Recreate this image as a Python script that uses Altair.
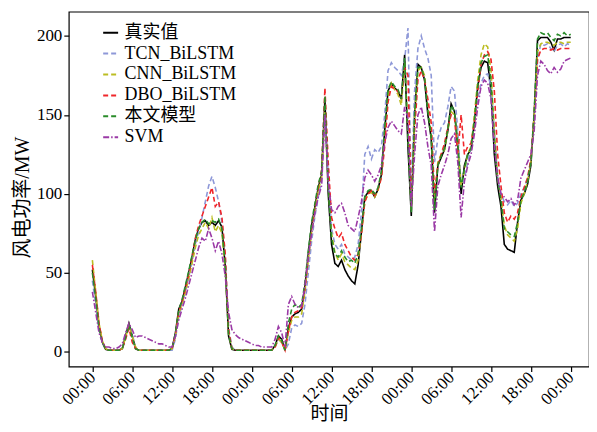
import altair as alt
import pandas as pd

# time in hours, 30-minute steps over three days (00:00 .. 00:00)
hours = [i * 0.5 for i in range(145)]
tick_hours = [0, 6, 12, 18, 24, 30, 36, 42, 48, 54, 60, 66, 72]

series_names = ["真实值", "TCN_BiLSTM", "CNN_BiLSTM", "DBO_BiLSTM", "本文模型", "SVM"]
series_colors = ["#000000", "#8e98d8", "#bcbd22", "#f0262a", "#2a8c2a", "#9b3aa6"]

actual = [52, 35, 16, 6, 1.5, 1, 1, 1, 1, 2, 10, 18, 10, 2, 1,
          1, 1, 1, 1, 1, 1, 1, 1, 1,
          2, 12, 27, 32, 41, 50, 60, 71, 78, 82, 83, 80, 82, 80, 83, 79, 54, 10, 1.5,
          1, 1, 1, 1, 1, 1, 1, 1, 1, 1, 1, 1,
          4, 10, 8, 1, 15, 22, 24, 25, 27, 42, 62, 80, 92, 104, 112, 160, 100, 68, 56,
          54, 58, 52, 48, 45, 43, 55, 76, 98, 101, 102, 98, 103, 112, 140, 165, 170, 167,
          165, 160, 188, 130, 86, 150, 182, 180, 172, 150, 135, 88, 118, 123, 128, 140,
          157, 152, 130, 100, 118, 125, 128, 145, 168, 180, 184, 183, 165, 125, 105, 92,
          68, 65, 64, 63, 82, 96, 100, 106, 118, 150, 197, 199, 199, 199, 196, 191, 198,
          198, 199, 199, 199]

tcn = [45, 30, 14, 6, 2, 1, 1, 1, 1, 2, 9, 16, 11, 3, 1,
       1, 1, 1, 1, 1, 1, 1, 1, 1,
       1, 8, 22, 30, 38, 47, 57, 68, 76, 85, 95, 105, 111, 104, 95, 82, 60, 15, 3,
       1, 1, 1, 1, 1, 1, 1, 1, 1, 1, 1, 1,
       3, 8, 6, 1, 5, 15, 17, 16, 18, 30, 50, 70, 86, 98, 108, 150, 110, 78, 68,
       65, 68, 62, 60, 58, 60, 68, 88, 125, 130, 122, 128, 126, 130, 150, 178, 183, 180,
       178, 175, 185, 205, 100, 165, 192, 200, 192, 186, 175, 120, 135, 142, 145, 155,
       168, 165, 140, 105, 110, 120, 130, 145, 160, 170, 175, 176, 168, 140, 110, 100,
       95, 93, 96, 92, 94, 100, 104, 110, 120, 145, 185, 195, 194, 195, 192, 190, 194,
       195, 193, 195, 194]

cnn = [58, 38, 18, 7, 2, 1, 1, 1, 1, 2, 9, 17, 10, 3, 1,
       1, 1, 1, 1, 1, 1, 1, 1, 1,
       2, 10, 24, 30, 38, 46, 56, 66, 74, 78, 82, 78, 85, 76, 80, 75, 52, 12, 2,
       1, 1, 1, 1, 1, 1, 1, 1, 1, 1, 1, 1,
       3, 8, 6, 1, 12, 20, 22, 22, 24, 38, 58, 76, 90, 102, 110, 155, 105, 75, 63,
       58, 62, 57, 55, 53, 52, 58, 75, 95, 100, 101, 98, 102, 112, 138, 162, 170, 166,
       163, 156, 183, 140, 90, 148, 178, 180, 175, 155, 138, 95, 120, 125, 128, 140,
       152, 150, 130, 105, 115, 125, 130, 150, 172, 188, 195, 193, 178, 140, 110, 98,
       80, 74, 72, 70, 78, 94, 100, 108, 120, 150, 190, 195, 196, 196, 195, 194, 196,
       196, 195, 196, 196]

dbo = [55, 38, 18, 7, 2, 1, 1, 1, 1, 2, 8, 15, 6, 2, 1,
       1, 1, 1, 1, 1, 1, 1, 1, 1,
       2, 11, 25, 32, 40, 49, 60, 72, 80, 86, 92, 98, 104, 92, 95, 85, 62, 14, 2,
       1, 1, 1, 1, 1, 1, 1, 1, 1, 1, 1, 1,
       3, 9, 6, 1, 13, 22, 25, 26, 28, 40, 60, 78, 92, 104, 115, 167, 120, 85, 78,
       72, 75, 68, 64, 60, 58, 62, 75, 95, 100, 102, 99, 103, 110, 130, 158, 168, 166,
       165, 160, 180, 175, 95, 140, 172, 178, 172, 160, 145, 100, 118, 125, 132, 142,
       150, 148, 125, 150, 125, 130, 132, 145, 165, 182, 188, 190, 185, 165, 125, 105,
       88, 82, 86, 84, 88, 98, 104, 110, 122, 150, 185, 191, 192, 192, 191, 192, 191,
       192, 192, 192, 192]

ours = [50, 34, 15, 6, 1.5, 1, 1, 1, 1, 2, 9, 17, 9, 2, 1,
        1, 1, 1, 1, 1, 1, 1, 1, 1,
        2, 12, 26, 33, 42, 51, 61, 71, 78, 82, 84, 81, 83, 82, 84, 78, 55, 11, 2,
        1, 1, 1, 1, 1, 1, 1, 1, 1, 1, 1, 1,
        4, 10, 7, 1, 18, 27, 30, 28, 30, 44, 64, 82, 94, 106, 114, 162, 105, 72, 62,
        60, 64, 60, 57, 58, 56, 62, 78, 98, 102, 103, 100, 104, 114, 142, 166, 171, 168,
        166, 160, 186, 135, 88, 150, 180, 180, 173, 152, 137, 90, 118, 124, 129, 141,
        156, 152, 132, 104, 116, 125, 129, 147, 168, 183, 187, 188, 172, 135, 108, 96,
        78, 76, 74, 73, 82, 96, 101, 108, 120, 152, 198, 202, 201, 202, 199, 197, 201,
        200, 202, 200, 201]

svm = [38, 25, 12, 6, 3, 3, 2, 2, 3, 5, 12, 18, 14, 9, 10,
       10, 9, 8, 7, 6, 5, 5, 4, 3,
       3, 10, 20, 27, 34, 42, 50, 58, 66, 72, 70, 78, 72, 64, 70, 62, 48, 25, 14,
       11, 9, 8, 7, 6, 5, 4, 4, 3, 3, 3, 3,
       8, 16, 12, 3, 30, 35, 30, 28, 29, 42, 60, 75, 88, 98, 105, 150, 108, 90, 88,
       92, 94, 88, 80, 78, 76, 85, 95, 110, 115, 112, 108, 112, 118, 132, 142, 146, 143,
       140, 138, 155, 148, 92, 125, 150, 155, 145, 130, 118, 76, 105, 112, 118, 125,
       135, 138, 120, 85, 108, 118, 125, 138, 155, 168, 172, 170, 160, 130, 110, 100,
       98, 95, 97, 93, 96, 110, 115, 120, 125, 140, 175, 184, 182, 178, 176, 180, 177,
       179, 184, 185, 186]

all_values = [actual, tcn, cnn, dbo, ours, svm]
rows = []
for name, vals in zip(series_names, all_values):
    for h, v in zip(hours, vals):
        rows.append({"t": h, "v": v, "s": name})
df = pd.DataFrame(rows)

serif = "Liberation Serif, Noto Sans CJK SC"

label_expr = "(datum.value % 24 < 10 ? '0' : '') + (datum.value % 24) + ':00'"

legend_cfg = dict(title=None, orient="none", legendX=33, legendY=12,
                  symbolType="stroke", symbolSize=225, symbolStrokeWidth=2,
                  labelFontSize=18, labelFont=serif, labelColor="black",
                  labelOffset=5, rowPadding=3, padding=0)

chart = alt.Chart(df).mark_line(clip=True, strokeWidth=1.6).encode(
    x=alt.X("t:Q",
            scale=alt.Scale(domain=[-3.55, 74.75], nice=False, zero=False),
            axis=alt.Axis(values=tick_hours, labelExpr=label_expr, labelAngle=-45,
                          labelAlign="right", labelBaseline="middle", labelPadding=3,
                          title="时间", titleY=38, titleBaseline="top", grid=False)),
    y=alt.Y("v:Q",
            scale=alt.Scale(domain=[-9.3, 215.3], nice=False, zero=False),
            axis=alt.Axis(values=[0, 50, 100, 150, 200], title="风电功率/MW",
                          titleX=-36, titleY=186, titleAlign="center", titleBaseline="bottom",
                          titleFontSize=20, labelPadding=2, grid=False)),
    color=alt.Color("s:N", sort=series_names,
                    scale=alt.Scale(domain=series_names, range=series_colors),
                    legend=alt.Legend(**legend_cfg)),
    strokeDash=alt.StrokeDash("s:N", sort=series_names,
                              scale=alt.Scale(domain=series_names,
                                              range=[[1, 0], [5, 3], [5, 3], [5, 3], [5, 3], [6, 2, 1.5, 2]]),
                              legend=alt.Legend(**legend_cfg)),
).properties(
    width=522, height=356,
    background="white",
    autosize=alt.AutoSizeParams(type="none"),
    padding={"left": 61, "top": 3, "right": 0, "bottom": 57},
).configure_view(
    stroke="black", strokeWidth=1.2
).configure_axis(
    domain=False, tickColor="black", tickSize=5, tickWidth=1.2,
    labelFont=serif, labelFontSize=17, labelColor="black",
    titleFont=serif, titleFontSize=19, titleFontWeight="normal", titleColor="black",
)

chart.save("out.html", embed_options={"renderer": "svg", "actions": False})
